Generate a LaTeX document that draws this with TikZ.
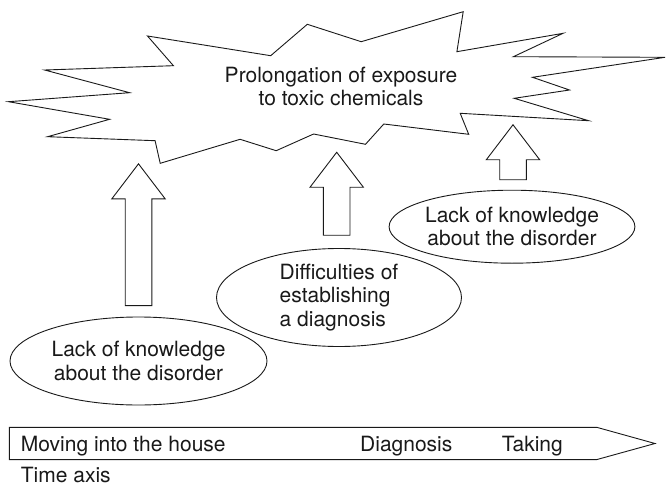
\documentclass[tikz,border=0pt]{standalone}
\usepackage{fontspec}
\setmainfont{TeX Gyre Heros}
\usetikzlibrary{shapes.geometric}
\begin{document}
\begin{tikzpicture}[x=1pt,y=-1pt,
  lineart/.style={draw=black!90, line width=0.9pt, line join=miter},
  txt/.style={font=\fontsize{21}{23.5}\selectfont, text=black!90, inner sep=0pt},
  cause/.style={lineart, ellipse, txt, align=center},
  pics/blockup/.style={code={
    \draw[lineart, fill=white]
      (-13.3,0) -- (-13.3,{35-#1}) -- (-26.7,{35-#1}) -- (0,-#1)
      -- (26.7,{35-#1}) -- (13.3,{35-#1}) -- (13.3,0) -- cycle;}}
]
\useasboundingbox (0,0) rectangle (667,487);

% starburst: prolonged exposure
\draw[lineart]
  (147.5,36) -- (173.4,65.7) -- (44.6,70) -- (129.6,92.7) -- (8.5,101.7)
  -- (109.6,119.3) -- (47.6,136.7) -- (155.1,140.7) -- (160.2,163.3)
  -- (240.1,139.3) -- (276.2,150.7) -- (313.6,134) -- (365.5,144.3)
  -- (383.8,124) -- (468.7,134.3) -- (460.2,113.3) -- (588.6,120.7)
  -- (514.2,98.3) -- (569.5,90) -- (532.5,77.3) -- (665.1,57.3)
  -- (513.4,56.7) -- (563.1,33.3) -- (456.9,51.7) -- (463.2,11.7)
  -- (361.2,41.7) -- (307.3,24.3) -- (270.7,55.7) -- cycle;
\node[txt, align=center] (burst) at (341,86.7)
  {Prolongation of exposure\\to toxic chemicals};

% causes
\node[cause, minimum width=257pt, minimum height=88pt] (lk1) at (138.5,361)
  {Lack of knowledge\\about the disorder};
\node[cause, align=left, minimum width=245pt, minimum height=98pt] (diag) at (339,297.5)
  {Difficulties of\\establishing\\a diagnosis};
\node[cause, minimum width=245pt, minimum height=73pt] (lk2) at (512,226.7)
  {Lack of knowledge\\about the disorder};

% block arrows pointing to the starburst
\pic (upA) at ([yshift=11pt]lk1.north) {blockup=141.7};
\pic (upB) at ([xshift=-2.3pt,yshift=12.8pt]diag.north) {blockup=83};
\pic (upC) at ([xshift=1pt,yshift=10pt]lk2.north) {blockup=55};

% time axis
\draw[lineart] (9.3,427.3) -- (596.7,427.3) -- (655,443.5) -- (596.7,459.6)
  -- (9.3,459.6) -- cycle;
\node[txt, anchor=base west] (move) at (20.7,451.7) {Moving into the house};
\node[txt, anchor=base west] (dx) at (360,451.7) {Diagnosis};
\node[txt, anchor=base west] (take) at (501.7,451.7) {Taking};
\node[txt, anchor=base west] (axis) at (20.7,482.3) {Time axis};
\end{tikzpicture}
\end{document}
